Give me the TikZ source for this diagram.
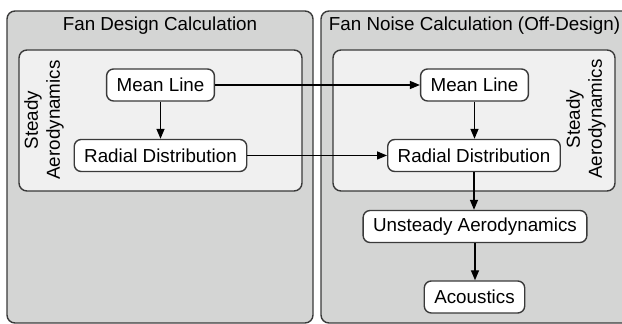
\documentclass[tikz,border=0pt]{standalone}
\usepackage{fontspec}
\setmainfont{Liberation Sans}
\usetikzlibrary{arrows.meta}
\definecolor{outerfill}{HTML}{D4D5D4}
\definecolor{innerfill}{HTML}{F0F0F0}
\definecolor{edgegray}{HTML}{3A3A3A}
\begin{document}
\begin{tikzpicture}[x=0.5pt,y=-0.5pt,
  outerpanel/.style={draw=edgegray,fill=outerfill,line width=0.7pt,rounded corners=4pt},
  innerpanel/.style={draw=edgegray,fill=innerfill,line width=0.7pt,rounded corners=4pt},
  box/.style={draw=edgegray,fill=white,line width=0.7pt,rounded corners=3.5pt,minimum height=16pt,inner xsep=5pt,inner ysep=0pt,font=\fontsize{9.4pt}{11pt}\selectfont},
  title/.style={inner sep=0pt,font=\fontsize{9.4pt}{11pt}\selectfont},
  sidelabel/.style={rotate=90,align=center,font=\fontsize{9.4pt}{11pt}\selectfont},
  arr/.style={-{Triangle[length=5pt,width=4pt]},line width=0.7pt,black}]
\useasboundingbox (0,0) rectangle (622,324);
\clip (0,0) rectangle (622,324);
% panels
\draw[outerpanel] (7,11) rectangle (313,323);
\draw[outerpanel] (321,11) rectangle (640,323);
\draw[innerpanel] (19,50) rectangle (302,191);
\draw[innerpanel] (333,50) rectangle (615,191);
% titles
\node[title] (t1) at (160,26) {Fan Design Calculation};
\node[title,anchor=west] (t2) at (328.5,26) {Fan Noise Calculation (Off-Design)};
\node[sidelabel] (s1) at (44,120) {Steady\\Aerodynamics};
\node[sidelabel] (s2) at (586,119) {Steady\\Aerodynamics};
% boxes
\node[box] (ml1) at (160.5,85) {Mean Line};
\node[box] (rd1) at (160.5,155.5) {Radial Distribution};
\node[box] (ml2) at (474.5,85) {Mean Line};
\node[box] (rd2) at (474,155.5) {Radial Distribution};
\node[box] (ua) at (475,226.5) {Unsteady Aerodynamics};
\node[box] (ac) at (474.5,297) {Acoustics};
% arrows
\draw[arr] (ml1) -- (rd1);
\draw[arr] (ml1) -- (ml2);
\draw[arr] (rd1) -- (rd2);
\draw[arr] (ml2.south) -- (ml2.south |- rd2.north);
\draw[arr] (rd2.south) -- (rd2.south |- ua.north);
\draw[arr] (ua.south) -- (ua.south |- ac.north);
\end{tikzpicture}
\end{document}
